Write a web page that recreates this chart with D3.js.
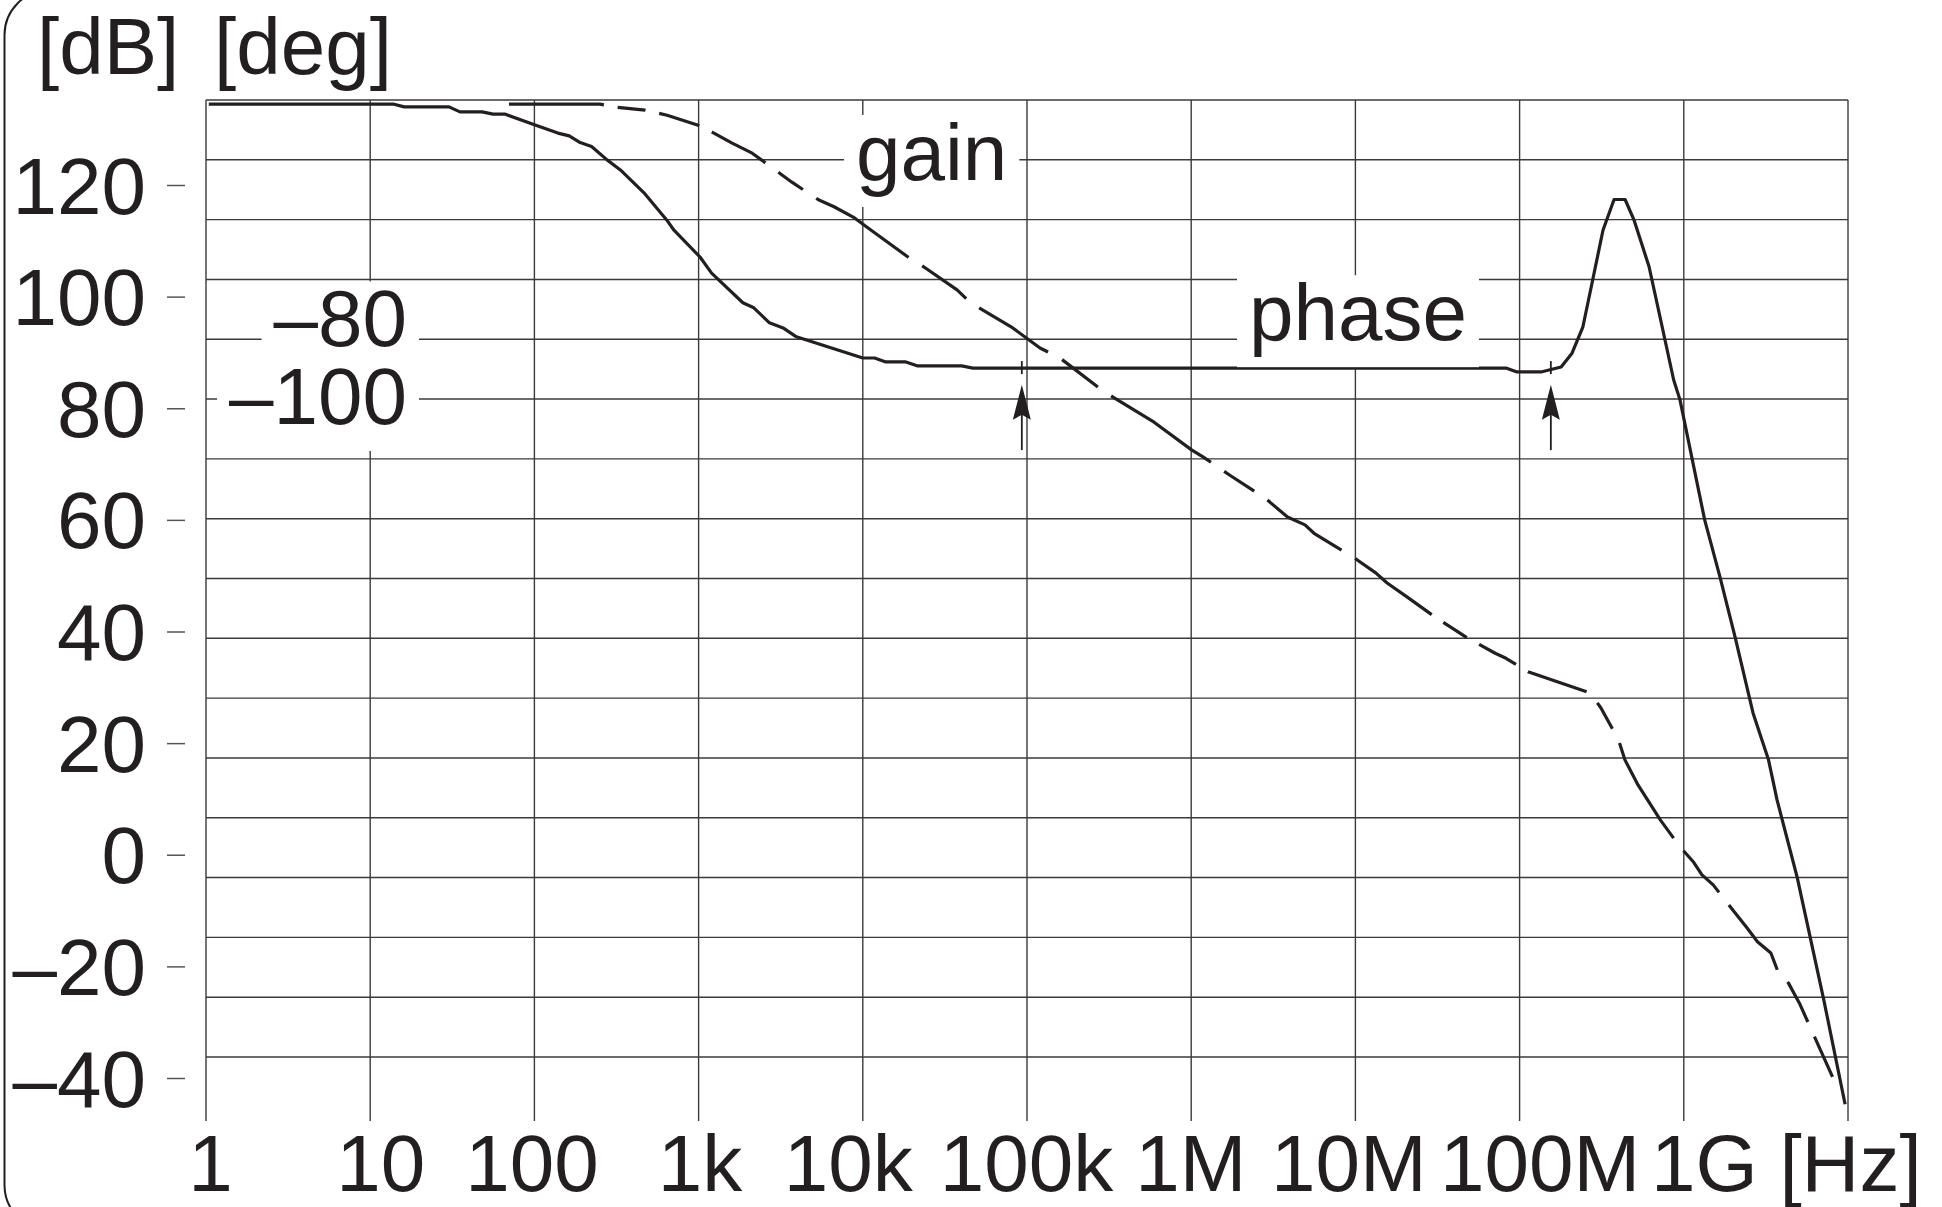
<!DOCTYPE html>
<html>
<head>
<meta charset="utf-8">
<script src="https://d3js.org/d3.v7.min.js"></script>
<style>
    body { margin: 0; background: #ffffff; }
    text { font-family: "Liberation Sans", Arial, Helvetica, sans-serif; fill: #231f20; }
</style>
</head>
<body>
<div id="chart"></div>
<script>
// frequency decades and their labels
const freqTicks = [1, 10, 100, 1e3, 1e4, 1e5, 1e6, 1e7, 1e8, 1e9, 1e10];
const freqLabels = ["1", "10", "100", "1k", "10k", "100k", "1M", "10M", "100M", "1G", "[Hz]"];
const dbTicks = [120, 100, 80, 60, 40, 20, 0, -20, -40];
const degTicks = [-80, -100];

// solid curve (phase) in units of the dB axis
const phaseFreq = [1.04, 13.8, 16.1, 30.2, 35.2, 48, 56, 66, 102, 139, 163, 190, 223, 277, 334, 465, 641, 708,
    1020, 1200, 1860, 2170, 2700, 3270, 3940, 10000, 11800, 13800, 18300, 21400, 40000, 46800,
    8.26e7, 9.64e7, 1.35e8, 1.79e8, 2.08e8, 2.43e8, 2.76e8, 3.22e8, 3.76e8, 4.39e8, 4.98e8, 6.14e8,
    7.16e8, 8.67e8, 9.48e8, 1.34e9, 1.66e9, 2.05e9, 2.64e9, 3.28e9, 3.70e9, 4.90e9, 7.12e9, 9.60e9];
const phaseLevel = [134.5, 134.5, 134.0, 134.0, 133.1, 133.1, 132.7, 132.7, 130.7, 129.3, 128.8, 127.6, 126.9, 124.5, 122.7, 118.6, 113.7, 111.9,
    107.1, 104.2, 98.9, 98.0, 95.3, 94.4, 92.8, 89.0, 89.0, 88.3, 88.3, 87.6, 87.6, 87.2,
    87.2, 86.5, 86.5, 87.4, 89.8, 94.6, 102.4, 111.9, 117.4, 117.4, 113.7, 105.4,
    96.4, 85.1, 81.5, 60.0, 49.8, 39.1, 25.4, 17.0, 9.8, -4.0, -26.0, -44.7];

// dashed curve (gain)
const gainFreq = [70, 251, 301, 472, 643, 993, 1240, 1600, 2120, 3700, 5410, 6680, 8910, 10770, 18850, 23580,
    37500, 45300, 80000, 120000, 158800, 270600, 334000, 594000, 1.01e6, 1.18e6, 1.72e6, 2.82e6, 3.86e6,
    4.93e6, 5.60e6, 9.82e6, 1.33e7, 1.56e7, 2.06e7, 3.05e7, 4.72e7, 7.10e7, 8.26e7, 1.125e8, 2.685e8,
    3.13e8, 4.00e8, 4.38e8, 5.26e8, 6.18e8, 7.21e8, 9.48e8, 1.146e9, 1.29e9, 1.51e9, 2.05e9, 2.41e9,
    2.81e9, 3.39e9, 3.72e9, 4.34e9, 5.06e9, 8.05e9];
const gainLevel = [134.5, 134.5, 134.0, 133.4, 132.5, 130.7, 129.3, 127.5, 125.7, 120.5, 117.3, 116.1, 114.1, 112.3, 107.1, 105.3,
    101.2, 98.9, 94.6, 90.8, 89.0, 83.8, 82.0, 77.5, 72.5, 71.3, 68.0, 63.9, 60.5,
    59.1, 57.6, 53.2, 50.5, 48.7, 46.2, 42.6, 39.0, 36.1, 35.2, 32.8, 29.0,
    26.3, 20.6, 17.0, 12.5, 9.3, 6.2, 1.4, -1.3, -3.6, -5.4, -10.4, -13.0,
    -15.6, -17.6, -20.7, -23.0, -26.6, -39.8];

// arrows pointing at the two marked frequencies
const markerFreq = [9.3e4, 1.55e8];
const markerTip = 84.2;
const markerTail = 72.5;

// text labels on the plot
const curveLabels = ["gain", "phase"];
const curveLabelFreq = [9.1e3, 2.25e6];
const curveLabelLevel = [120.9, 92.2];

class BodePlot {
    constructor() {
        this.width = 1942;
        this.height = 1207;
        this.plot = {'left': 206, 'right': 1848, 'top': 100, 'bottom': 1121};
        this.ink = "#231f20";

        this.svg = d3.select('#chart').append('svg')
            .attr("width", this.width)
            .attr("height", this.height);
        this.svg.append("rect")
            .attr("width", this.width)
            .attr("height", this.height)
            .attr("fill", "#ffffff");

        this.x = d3.scaleLog().domain([1, 1e10]).range([this.plot.left, this.plot.right]);
        this.y = d3.scaleLinear().domain([-40, 120]).range([1078, 185]);
        // the printed grid does not line up with the labels
        this.gridY = d3.scaleLinear().domain([0, 16]).range([100, 1057]);
        this.degY = d3.scaleLinear().domain([-100, -80]).range([this.y(82.2), this.y(96.1)]);

        this.drawFrame();
        this.drawGrid();
        this.drawAxes();
        this.drawCurves();
        this.drawLabels();
        this.drawMarkers();
    }

    drawFrame() {
        // left edge of the rounded page frame
        this.svg.append("rect")
            .attr("x", 4.5)
            .attr("y", -10)
            .attr("width", 2100)
            .attr("height", 1240)
            .attr("rx", 45)
            .attr("fill", "none")
            .attr("stroke", this.ink)
            .attr("stroke-width", 2);
    }

    drawGrid() {
        let that = this;
        let grid = this.svg.append("g").attr("id", "grid")
            .attr("stroke", "#3a3a3a")
            .attr("stroke-width", 1.4);
        grid.selectAll("line.h").data(d3.range(17)).join("line")
            .attr("class", "h")
            .attr("x1", this.plot.left)
            .attr("x2", this.plot.right)
            .attr("y1", d => that.gridY(d))
            .attr("y2", d => that.gridY(d));
        grid.selectAll("line.v").data(freqTicks).join("line")
            .attr("class", "v")
            .attr("x1", d => that.x(d))
            .attr("x2", d => that.x(d))
            .attr("y1", this.plot.top)
            .attr("y2", this.plot.bottom);
    }

    drawAxes() {
        // dB axis: labels with a short dash next to them
        let yAxis = d3.axisLeft(this.y)
            .tickValues(dbTicks)
            .tickSize(18)
            .tickFormat(d => d < 0 ? "\u2013" + Math.abs(d) : d);
        let yg = this.svg.append("g")
            .attr("transform", "translate(185,0)")
            .call(yAxis);
        yg.select(".domain").remove();
        yg.selectAll(".tick line").attr("stroke", "#555").attr("stroke-width", 1.5);
        yg.selectAll(".tick text")
            .attr("font-size", 80)
            .attr("fill", this.ink)
            .attr("x", -39)
            .attr("dy", "0.35em");

        // frequency axis, labels only
        const nudge = {"1": 4, "10": 10, "100": -3, "1k": 1, "10k": -15, "100k": -1, "1M": -1,
            "10M": -7, "100M": 20, "1G": 20, "[Hz]": 2};
        let xAxis = d3.axisBottom(this.x)
            .tickValues(freqTicks)
            .tickSize(0)
            .tickFormat((d, i) => freqLabels[i]);
        let xg = this.svg.append("g")
            .attr("transform", "translate(0," + this.plot.bottom + ")")
            .call(xAxis);
        xg.select(".domain").remove();
        xg.selectAll(".tick text")
            .attr("font-size", 80)
            .attr("fill", this.ink)
            .attr("dy", 0)
            .attr("y", 70)
            .attr("x", (d, i) => nudge[freqLabels[i]]);

        // units in the top left corner
        this.svg.append("text").attr("x", 37).attr("y", 74).attr("font-size", 80).text("[dB]");
        this.svg.append("text").attr("x", 214).attr("y", 74).attr("font-size", 80).text("[deg]");
    }

    boxedText(x, y, str, anchor) {
        let g = this.svg.append("g");
        let t = g.append("text")
            .attr("x", x)
            .attr("y", y)
            .attr("font-size", 80)
            .attr("text-anchor", anchor)
            .text(str);
        let box = t.node().getBBox();
        g.insert("rect", "text")
            .attr("x", box.x - 12)
            .attr("y", y - 65)
            .attr("width", box.width + 24)
            .attr("height", 92)
            .attr("fill", "#ffffff");
    }

    drawCurves() {
        let that = this;
        let line = d3.line()
            .x(d => that.x(d[0]))
            .y(d => that.y(d[1]));
        let phase = d3.zip(phaseFreq, phaseLevel);
        let gain = d3.zip(gainFreq, gainLevel);

        this.svg.append("path")
            .datum(gain)
            .attr("d", line)
            .attr("fill", "none")
            .attr("stroke", this.ink)
            .attr("stroke-width", 3.2)
            .attr("stroke-linejoin", "round")
            .attr("stroke-dasharray", "95 14 28 14 42 14 62 16 30 16 110 16 55 16 82 16 45 16 120 16 36 16 90 16");

        this.svg.append("path")
            .datum(phase)
            .attr("d", line)
            .attr("fill", "none")
            .attr("stroke", this.ink)
            .attr("stroke-width", 3.2)
            .attr("stroke-linejoin", "round");
    }

    drawLabels() {
        let that = this;
        curveLabels.forEach((s, i) => {
            that.boxedText(that.x(curveLabelFreq[i]), that.y(curveLabelLevel[i]), s, "start");
        });
        degTicks.forEach(d => {
            that.boxedText(407, that.degY(d) + 28, "\u2013" + Math.abs(d), "end");
        });
    }

    drawMarkers() {
        let that = this;
        let g = this.svg.append("g").attr("id", "markers");
        markerFreq.forEach(f => {
            let cx = that.x(f);
            let tip = that.y(markerTip);
            let tail = that.y(markerTail);
            let cross = that.y(87.2);
            g.append("line")
                .attr("x1", cx).attr("x2", cx)
                .attr("y1", tip + 20).attr("y2", tail)
                .attr("stroke", that.ink).attr("stroke-width", 1.8);
            g.append("path")
                .attr("d", `M${cx},${tip} L${cx - 9},${tip + 35} L${cx},${tip + 30} L${cx + 9},${tip + 35} Z`)
                .attr("fill", that.ink);
            g.append("line")
                .attr("x1", cx).attr("x2", cx)
                .attr("y1", cross - 7).attr("y2", cross + 6)
                .attr("stroke", that.ink).attr("stroke-width", 1.8);
        });
    }
}

new BodePlot();
</script>
</body>
</html>
